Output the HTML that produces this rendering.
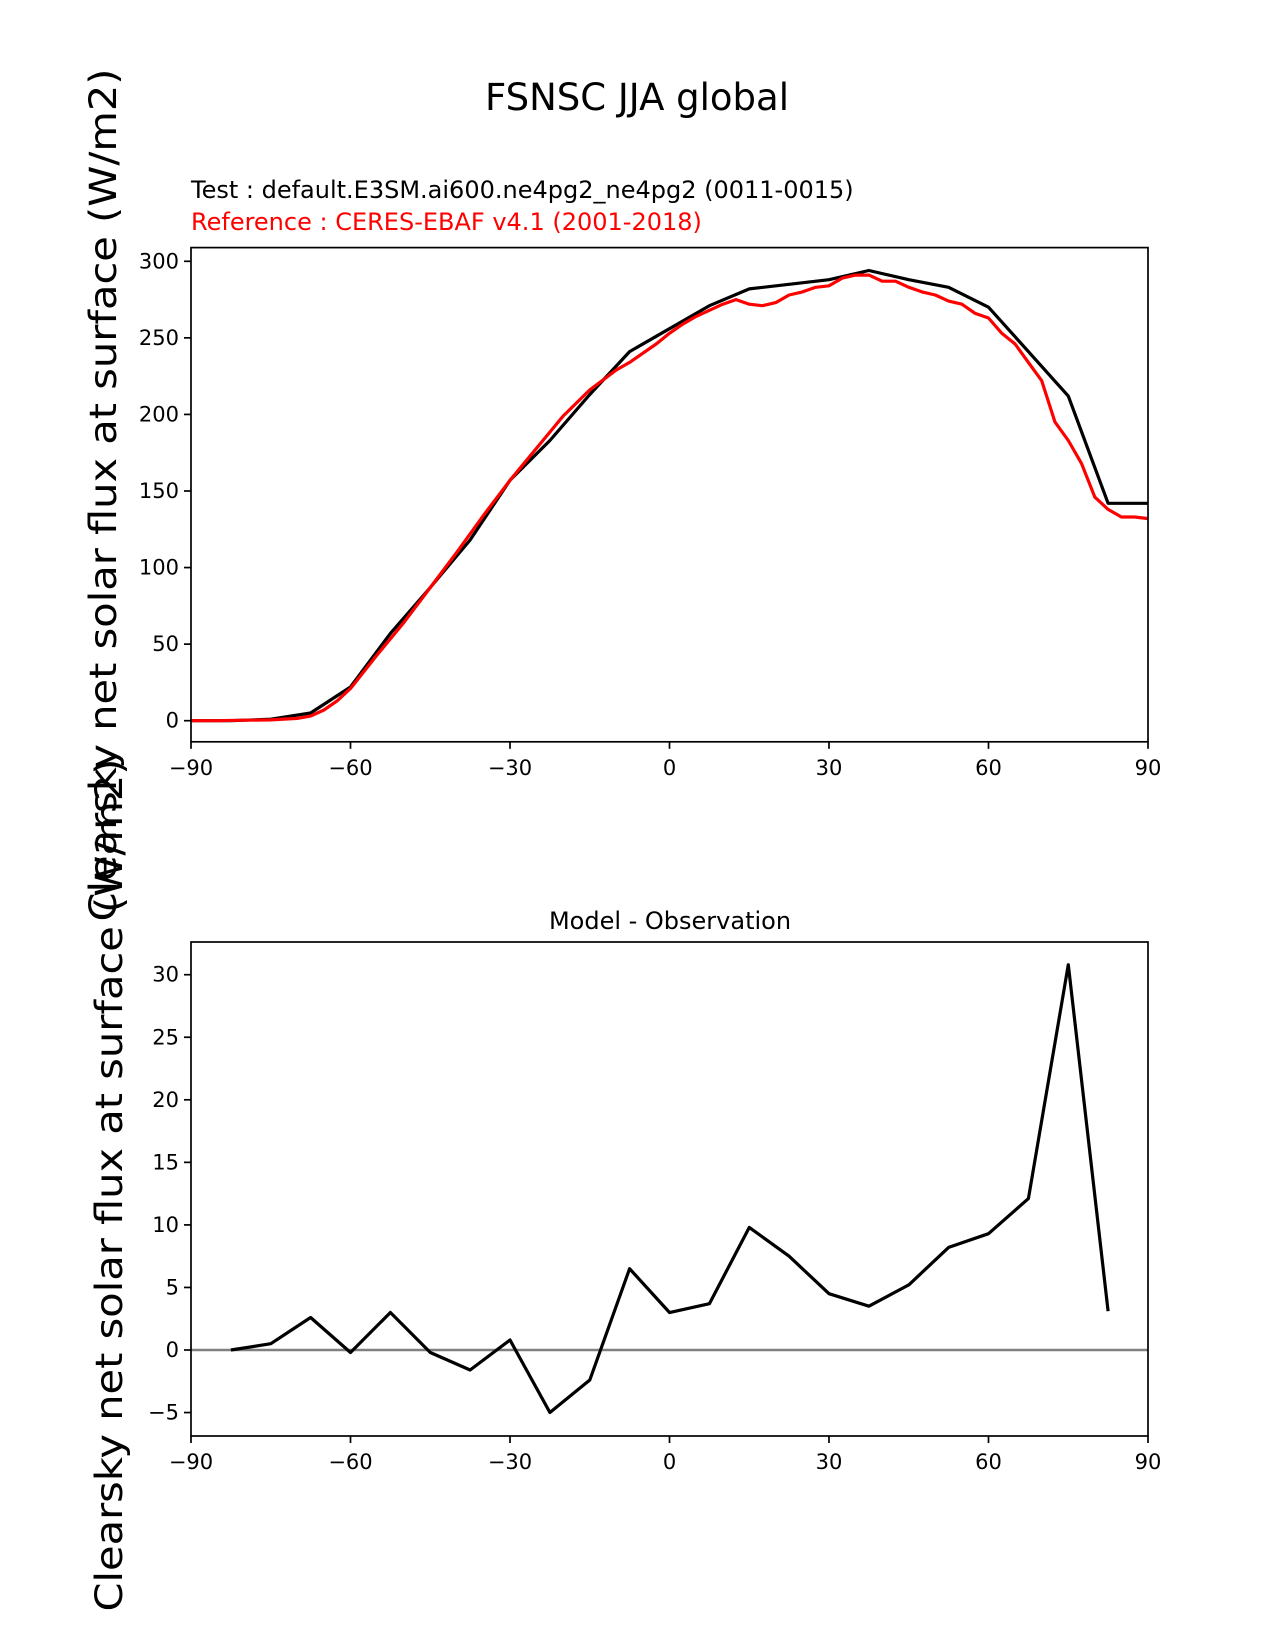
<!DOCTYPE html>
<html><head><meta charset="utf-8"><style>html,body{margin:0;padding:0;background:#fff}svg{display:block}text{font-family:"DejaVu Sans","Liberation Sans",sans-serif}</style></head>
<body>
<svg id="fig" width="1275" height="1650" viewBox="0 0 1275 1650" xmlns="http://www.w3.org/2000/svg">
<text x="637" y="110" font-size="37" text-anchor="middle">FSNSC JJA global</text>
<text x="191" y="198" font-size="24">Test : default.E3SM.ai600.ne4pg2_ne4pg2 (0011-0015)</text>
<text x="191" y="230" font-size="24" fill="#ff0000">Reference : CERES-EBAF v4.1 (2001-2018)</text>
<text x="670" y="929" font-size="24" text-anchor="middle">Model - Observation</text>
<text transform="translate(116,495) rotate(-90)" font-size="37" text-anchor="middle" textLength="853" lengthAdjust="spacingAndGlyphs">Clearsky net solar flux at surface (W/m2)</text>
<text transform="translate(122,1185) rotate(-90)" font-size="37" text-anchor="middle" textLength="853" lengthAdjust="spacingAndGlyphs">Clearsky net solar flux at surface (W/m2)</text>
<g id="top"></g>
<g id="bot"></g>
</svg>
<script>
const xTicks=[-90,-60,-30,0,30,60,90];
const xTickLabels=["\u221290","\u221260","\u221230","0","30","60","90"];
const topYTicks=[0,50,100,150,200,250,300];
const botYTicks=[-5,0,5,10,15,20,25,30];
const botYTickLabels=["\u22125","0","5","10","15","20","25","30"];
const testLat=[-90,-82.5,-75,-67.5,-60,-52.5,-45,-37.5,-30,-22.5,-15,-7.5,0,7.5,15,22.5,30,37.5,45,52.5,60,67.5,75,82.5,90];
const testVal=[0,0,1,5,22,57,87,118,157,183,213,241,256,271,282,285,288,294,288,283,270,241,212,142,142];
const refLat=[-90,-85,-80,-75,-70,-67.5,-65,-62.5,-60,-55,-50,-45,-40,-35,-30,-25,-20,-15,-10,-7.5,-5,-2.5,0,2.5,5,7.5,10,12.5,15,17.5,20,22.5,25,27.5,30,32.5,35,37.5,40,42.5,45,47.5,50,52.5,55,57.5,60,62.5,65,67.5,70,72.5,75,77.5,80,82.5,85,87.5,90];
const refVal=[0,0,0.3,0.5,1.5,3,7,13,21,43,64,87,110,134,157,178,199,216,229,234,240,246,253,259,264,268,272,275,272,271,273,278,280,283,284,289,291,291,287,287,283,280,278,274,272,266,263,253,246,234,222,195,183,168,146,138,133,133,132];
const diffLat=[-82.5,-75,-67.5,-60,-52.5,-45,-37.5,-30,-22.5,-15,-7.5,0,7.5,15,22.5,30,37.5,45,52.5,60,67.5,75,82.5];
const diffVal=[0,0.5,2.6,-0.2,3.0,-0.2,-1.6,0.8,-5.0,-2.4,6.5,3.0,3.7,9.8,7.5,4.5,3.5,5.2,8.2,9.3,12.1,30.8,3.1];

const NS="http://www.w3.org/2000/svg";
function mk(parent,tag,attrs){const e=document.createElementNS(NS,tag);for(const k in attrs)e.setAttribute(k,attrs[k]);parent.appendChild(e);return e;}
const X0=191,X1=1148;
function xs(v){return X0+(v+90)/180*(X1-X0);}
function panel(g,top,bottom,ys,yTicks,yLabels){
  for(let i=0;i<xTicks.length;i++){
    const x=xs(xTicks[i]);
    const t=mk(g,'line',{x1:x,x2:x,y1:bottom,y2:bottom+7,stroke:'#000','stroke-width':1.7});
    
    
    const l=mk(g,'text',{x:x,y:bottom+33,'font-size':21,'text-anchor':'middle'});
    l.textContent=xTickLabels[i];
    
    
  }
  for(let i=0;i<yTicks.length;i++){
    const y=ys(yTicks[i]);
    const t=mk(g,'line',{x1:X0-7,x2:X0,y1:y,y2:y,stroke:'#000','stroke-width':1.7});
    
    
    const l=mk(g,'text',{x:X0-12,y:y+7,'font-size':21,'text-anchor':'end'});
    l.textContent=yLabels[i];
    
    
  }
}
function pathD(xa,ya,ys){return xa.map((v,i)=>(i?'L':'M')+xs(v).toFixed(1)+','+ys(ya[i]).toFixed(1)).join(' ');}

const tg=document.getElementById('top');
const T0=247.6,T1=741.8;
function ysT(v){return 720.7-v*(720.7-261.3)/300;}
panel(tg,T0,T1,ysT,topYTicks,topYTicks.map(String));
const tl=mk(tg,'path',{d:pathD(testLat,testVal,ysT),fill:'none',stroke:'#000','stroke-width':3.2,'stroke-linejoin':'round'});


const rl=mk(tg,'path',{d:pathD(refLat,refVal,ysT),fill:'none',stroke:'#ff0000','stroke-width':3.2,'stroke-linejoin':'round'});


const tf=mk(tg,'rect',{x:X0,y:T0,width:X1-X0,height:T1-T0,fill:'none',stroke:'#000','stroke-width':1.7});



const bg=document.getElementById('bot');
const B0=942,B1=1436;
function ysB(v){return 1350-v*(1350-974.7)/30;}
panel(bg,B0,B1,ysB,botYTicks,botYTickLabels);
const zl=mk(bg,'line',{x1:X0,x2:X1,y1:ysB(0),y2:ysB(0),stroke:'#808080','stroke-width':2.6});


const dl=mk(bg,'path',{d:pathD(diffLat,diffVal,ysB),fill:'none',stroke:'#000','stroke-width':3.2,'stroke-linejoin':'round'});


const bf=mk(bg,'rect',{x:X0,y:B0,width:X1-X0,height:B1-B0,fill:'none',stroke:'#000','stroke-width':1.7});


</script>
</body></html>
